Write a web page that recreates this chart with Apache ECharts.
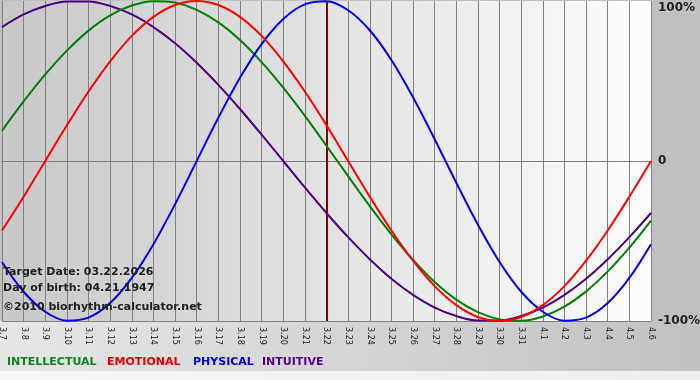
<!DOCTYPE html>
<html>
<head>
<meta charset="utf-8">
<script src="https://cdn.jsdelivr.net/npm/echarts@6/dist/echarts.min.js"></script>
<style>html,body{margin:0;padding:0;background:#c0c0c0;}#c{width:700px;height:380px;}</style>
</head>
<body>
<div id="c"></div>
<script>
var categories = ['3.7','3.8','3.9','3.10','3.11','3.12','3.13','3.14','3.15','3.16','3.17','3.18','3.19','3.20','3.21','3.22','3.23','3.24','3.25','3.26','3.27','3.28','3.29','3.30','3.31','4.1','4.2','4.3','4.4','4.5','4.6'];
var intellectual = [0.189,0.372,0.541,0.690,0.815,0.910,0.972,0.999,0.990,0.945,0.866,0.756,0.618,0.458,0.282,0.095,-0.095,-0.282,-0.458,-0.618,-0.756,-0.866,-0.945,-0.990,-0.999,-0.972,-0.910,-0.815,-0.690,-0.541,-0.372];
var emotional = [-0.434,-0.223,0,0.223,0.434,0.623,0.782,0.901,0.975,1,0.975,0.901,0.782,0.623,0.434,0.223,0,-0.223,-0.434,-0.623,-0.782,-0.901,-0.975,-1,-0.975,-0.901,-0.782,-0.623,-0.434,-0.223,0];
var physical = [-0.631,-0.817,-0.942,-0.998,-0.979,-0.888,-0.731,-0.520,-0.270,0,0.270,0.520,0.731,0.888,0.979,0.998,0.942,0.817,0.631,0.398,0.136,-0.136,-0.398,-0.631,-0.817,-0.942,-0.998,-0.979,-0.888,-0.731,-0.520];
var intuitive = [0.837,0.916,0.969,0.997,0.997,0.969,0.916,0.837,0.736,0.614,0.476,0.325,0.165,0,-0.165,-0.325,-0.476,-0.614,-0.736,-0.837,-0.916,-0.969,-0.997,-0.997,-0.969,-0.916,-0.837,-0.736,-0.614,-0.476,-0.325];
var targetDay = '3.22';
var yTicks = {'1':'100%','0':'0','-1':'-100%'};
var infoLines = ['Target Date: 03.22.2026','Day of birth: 04.21.1947','©2010 biorhythm-calculator.net'];
var legendNames = ['INTELLECTUAL','EMOTIONAL','PHYSICAL','INTUITIVE'];

var colors = {INTELLECTUAL:'#008000', EMOTIONAL:'#ff0000', PHYSICAL:'#0000e8', INTUITIVE:'#4b0082'};
var legendColors = {INTELLECTUAL:'#108020', EMOTIONAL:'#e00000', PHYSICAL:'#0000e0', INTUITIVE:'#5a0090'};
var FONT = '"DejaVu Sans", Verdana, sans-serif';

function line(name, data, extra) {
  var s = {
    name: name, type: 'line', data: data, smooth: 0.35, symbol: 'none',
    lineStyle: {color: colors[name], width: 2}, itemStyle: {color: colors[name]}, z: 3
  };
  if (extra) for (var k in extra) s[k] = extra[k];
  return s;
}

var chart = echarts.init(document.getElementById('c'), null, {renderer: 'canvas'});
var legendX = [7, 107, 193, 262];
var graphics = [
  {type: 'rect', z: -10, shape: {x: 0, y: 321, width: 700, height: 50},
   style: {fill: new echarts.graphic.LinearGradient(0,0,1,0,[{offset:0,color:'#e6e6e6'},{offset:1,color:'#c2c2c2'}])}},
  {type: 'rect', z: -10, shape: {x: 0, y: 371, width: 700, height: 9},
   style: {fill: new echarts.graphic.LinearGradient(0,0,1,0,[{offset:0,color:'#f6f6f6'},{offset:1,color:'#eeeeee'}])}}
];
infoLines.forEach(function(t, i) {
  graphics.push({type: 'text', z: 10, left: 3, top: [267, 283, 302][i],
    style: {text: t, font: 'bold 11px ' + FONT, fill: '#202020'}});
});
legendNames.forEach(function(n, i) {
  graphics.push({type: 'text', z: 10, left: legendX[i], top: 357,
    style: {text: n, font: 'bold 11px ' + FONT, fill: legendColors[n]}});
});

chart.setOption({
  backgroundColor: '#c0c0c0',
  animation: false,
  grid: {left: 2, right: 49, top: 1, bottom: 59, show: true, borderWidth: 0, outerBoundsMode: 'none', containLabel: false,
    backgroundColor: new echarts.graphic.LinearGradient(0,0,1,0,[{offset:0,color:'#c8c8c8'},{offset:1,color:'#fdfdfd'}])},
  xAxis: {
    type: 'category', data: categories, boundaryGap: false,
    axisLine: {lineStyle: {color: '#808080', width: 1}},
    axisTick: {show: true, length: 4, lineStyle: {color: '#808080'}},
    splitLine: {show: true, lineStyle: {color: '#808080', width: 1}},
    axisLabel: {rotate: -90, interval: 0, fontSize: 8, fontFamily: FONT, color: '#202020', margin: 6}
  },
  yAxis: {
    type: 'value', position: 'right', min: -1, max: 1, interval: 1,
    axisLine: {show: false}, axisTick: {show: false},
    splitLine: {show: true, lineStyle: {color: ['#808080', '#808080', 'rgba(0,0,0,0)'], width: 1}},
    axisLabel: {
      margin: 7, align: 'left',
      formatter: function(v) { var t = yTicks[String(v)]; return v === 1 ? '{top|' + t + '}' : '{n|' + t + '}'; },
      rich: {
        top: {fontSize: 12, fontWeight: 'bold', fontFamily: FONT, color: '#202020', padding: [14, 0, 0, 0]},
        n: {fontSize: 12, fontWeight: 'bold', fontFamily: FONT, color: '#202020'}
      }
    }
  },
  graphic: graphics,
  series: [
    line('INTUITIVE', intuitive),
    line('INTELLECTUAL', intellectual),
    line('PHYSICAL', physical),
    line('EMOTIONAL', emotional, {markLine: {silent: true, symbol: 'none', label: {show: false},
      lineStyle: {color: '#800000', width: 2, type: 'solid'}, data: [{xAxis: targetDay}], z: 2}})
  ]
});
</script>
</body>
</html>
